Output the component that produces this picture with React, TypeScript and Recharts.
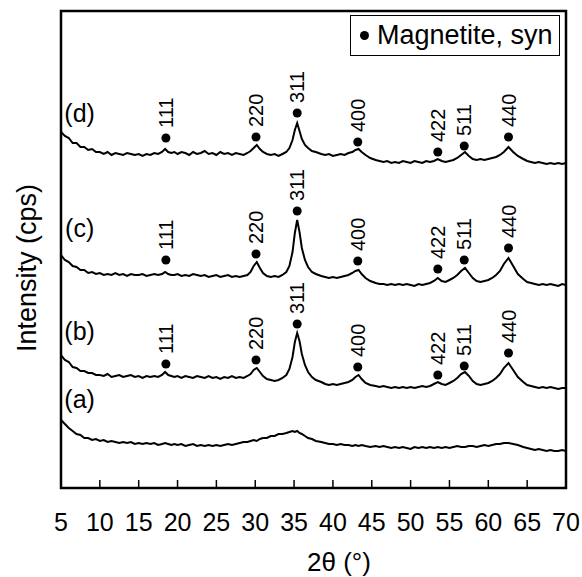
import {
  ComposedChart,
  Line,
  Scatter,
  XAxis,
  YAxis,
  ReferenceArea,
  ReferenceDot,
} from "recharts";

const FONT = "'Liberation Sans', Arial, sans-serif";

// 2θ sampling grid (degrees), denser near the reflections
const twoTheta = [
  5, 5.5, 6, 6.5, 7, 7.5, 8, 8.5, 9, 9.5,
  10, 10.5, 11, 11.5, 12, 12.5, 13, 13.5, 14, 14.5,
  15, 15.5, 16, 16.5, 17, 17.5, 18, 18.4, 18.8, 19.2,
  19.6, 20, 20.5, 21, 21.5, 22, 22.5, 23, 23.5, 24,
  24.5, 25, 25.5, 26, 26.5, 27, 27.5, 28, 28.5, 29,
  29.4, 29.8, 30.2, 30.6, 31, 31.5, 32, 32.5, 33, 33.5,
  34, 34.4, 34.8, 35.1, 35.4, 35.7, 36, 36.4, 36.8, 37.3,
  37.8, 38.5, 39, 39.5, 40, 40.5, 41, 41.5, 42, 42.5,
  42.9, 43.3, 43.7, 44.2, 44.8, 45.5, 46, 46.5, 47, 47.5,
  48, 48.5, 49, 49.5, 50, 50.5, 51, 51.5, 52, 52.5,
  53, 53.5, 54, 54.5, 55, 55.5, 56, 56.5, 57, 57.5,
  58, 58.5, 59, 59.5, 60, 60.5, 61, 61.5, 62, 62.6,
  63.2, 63.8, 64.5, 65, 65.5, 66, 66.5, 67, 67.5, 68,
  68.5, 69, 69.5, 70,
];

// stacked intensities (cps, offset per sample)
const intensityD = [
  356, 352, 350, 345, 345, 341, 341, 338, 339, 336,
  336, 334, 336, 333, 335, 334, 333, 335, 334, 333,
  334, 332, 334, 333, 335, 334, 336, 339, 336, 335,
  336, 334, 336, 335, 333, 336, 334, 335, 337, 334,
  335, 333, 336, 334, 335, 333, 335, 334, 333, 335,
  337, 340, 343, 339, 336, 334, 333, 334, 332, 334,
  336, 340, 348, 358, 365, 357, 349, 343, 340, 337,
  336, 334, 333, 334, 332, 333, 334, 333, 335, 336,
  338, 339, 336, 333, 330, 328, 327, 326, 327, 325,
  326, 325, 327, 326, 325, 327, 326, 325, 327, 326,
  327, 329, 327, 326, 327, 328, 330, 333, 336, 332,
  329, 328, 329, 328, 329, 330, 331, 333, 336, 341,
  336, 332, 329, 327, 326, 325, 326, 325, 324, 325,
  324, 325, 324, 325,
];

const intensityC = [
  233, 228, 226, 222, 221, 218, 218, 215, 216, 214,
  215, 213, 214, 213, 215, 213, 214, 212, 214, 213,
  213, 214, 212, 213, 214, 213, 214, 216, 214, 213,
  213, 214, 212, 213, 212, 214, 213, 212, 213, 211,
  212, 213, 211, 212, 213, 211, 212, 211, 212, 213,
  216, 222, 226, 220, 215, 212, 211, 212, 211, 213,
  216, 222, 236, 255, 268, 256, 240, 228, 221, 216,
  214, 212, 211, 210, 211, 210, 211, 212, 213, 215,
  217, 218, 214, 210, 207, 205, 204, 204, 203, 204,
  203, 204, 203, 204, 203, 202, 204, 203, 204, 205,
  207, 210, 207, 206, 208, 210, 213, 217, 220, 215,
  210, 207, 206, 207, 208, 210, 213, 217, 224, 230,
  222, 214, 209, 206, 205, 204, 203, 204, 203, 204,
  203, 202, 204, 203,
];

const intensityB = [
  133, 128, 126, 121, 120, 117, 117, 115, 115, 113,
  113, 112, 114, 111, 112, 113, 111, 112, 113, 111,
  112, 110, 112, 111, 112, 111, 113, 116, 113, 112,
  111, 112, 110, 112, 111, 110, 112, 111, 110, 112,
  110, 111, 109, 111, 110, 112, 110, 111, 110, 112,
  114, 118, 120, 116, 112, 109, 108, 107, 108, 110,
  113, 119, 131, 146, 155, 147, 134, 123, 116, 111,
  108, 106, 104, 103, 104, 103, 104, 105, 106, 108,
  111, 113, 109, 105, 103, 102, 101, 102, 101, 100,
  101, 100, 101, 100, 101, 100, 101, 102, 101, 102,
  104, 106, 104, 103, 105, 107, 110, 114, 116, 112,
  107, 104, 103, 104, 105, 107, 110, 114, 120, 125,
  118, 111, 106, 103, 102, 101, 100, 101, 100, 101,
  100, 99, 100, 100,
];

const intensityA = [
  68, 64, 60, 57, 54, 53, 50, 50, 48, 49,
  47, 48, 46, 47, 46, 45, 46, 45, 46, 44,
  45, 44, 45, 44, 45, 43, 44, 45, 44, 43,
  44, 43, 44, 42, 43, 44, 42, 43, 42, 43,
  42, 43, 42, 43, 44, 43, 44, 45, 46, 46,
  47, 48, 47, 49, 50, 50, 52, 52, 54, 54,
  55, 56, 57, 56, 57, 55, 54, 52, 50, 49,
  47, 46, 45, 44, 44, 43, 44, 43, 43, 42,
  43, 42, 43, 42, 41, 42, 41, 42, 41, 40,
  41, 40, 41, 40, 39, 41, 40, 41, 40, 41,
  40, 41, 40, 41, 40, 41, 42, 41, 41, 42,
  42, 41, 42, 43, 42, 43, 44, 44, 45, 45,
  44, 43, 41, 40, 39, 38, 39, 38, 37, 38,
  37, 37, 38, 37,
];

// magnetite reflections
const hkl = ["111", "220", "311", "400", "422", "511", "440"];
const peakTheta = [18.5, 30.1, 35.4, 43.2, 53.5, 56.9, 62.6];
const markD = [350, 351, 375, 346, 336, 342, 351];
const markC = [228, 234, 277, 227, 219, 228, 240];
const markB = [124, 128, 164, 121, 113, 122, 135];

const xTicks = [5, 10, 15, 20, 25, 30, 35, 40, 45, 50, 55, 60, 65, 70];

const toSeries = (ys: number[]) => twoTheta.map((x, i) => ({ x, y: ys[i] }));
const toMarks = (ys: number[]) =>
  peakTheta.map((x, i) => ({ x, y: ys[i], hkl: hkl[i] }));

const traces = [intensityA, intensityB, intensityC, intensityD].map(toSeries);
const marks = [markB, markC, markD].map(toMarks);

function XTick(props: any) {
  const { x, y, payload } = props;
  return (
    <g>
      <line x1={x} x2={x} y1={y} y2={y - 8} stroke="#000" strokeWidth={1.5} />
      <text
        x={x}
        y={y + 43}
        textAnchor="middle"
        fontSize={25}
        fontFamily={FONT}
        fill="#000"
      >
        {payload.value}
      </text>
    </g>
  );
}

function PeakMark(props: any) {
  const { cx, cy, payload } = props;
  if (cx == null || cy == null) return null;
  const ly = cy - 10;
  return (
    <g>
      <circle cx={cx} cy={cy} r={4.5} fill="#000" />
      <text
        x={cx}
        y={ly}
        transform={`rotate(-90 ${cx} ${ly})`}
        textAnchor="start"
        dominantBaseline="central"
        fontSize={20}
        fontFamily={FONT}
        fill="#000"
      >
        {payload.hkl}
      </text>
    </g>
  );
}

const sampleLabels = [
  { text: "(a)", y: 89 },
  { text: "(b)", y: 157 },
  { text: "(c)", y: 260 },
  { text: "(d)", y: 375 },
];

export default function App() {
  return (
    <div
      style={{
        position: "absolute",
        left: 0,
        top: 0,
        width: 582,
        height: 577,
        background: "#fff",
        fontFamily: FONT,
      }}
    >
      <ComposedChart
        width={582}
        height={577}
        margin={{ top: 11, right: 16, bottom: 0, left: 61 }}
      >
        <XAxis
          type="number"
          dataKey="x"
          domain={[5, 70]}
          ticks={xTicks}
          allowDataOverflow
          axisLine={false}
          tickLine={false}
          tickSize={0}
          tickMargin={0}
          height={89}
          tick={<XTick />}
        />
        <YAxis type="number" dataKey="y" domain={[0, 477]} hide allowDataOverflow />
        {traces.map((d, i) => (
          <Line
            key={i}
            data={d}
            dataKey="y"
            type="linear"
            stroke="#000"
            strokeWidth={2}
            dot={false}
            activeDot={false}
            isAnimationActive={false}
          />
        ))}
        {marks.map((d, i) => (
          <Scatter
            key={"m" + i}
            data={d}
            dataKey="y"
            shape={<PeakMark />}
            isAnimationActive={false}
          />
        ))}
        {sampleLabels.map((s) => (
          <ReferenceDot
            key={s.text}
            x={7.4}
            y={s.y}
            r={0}
            stroke="none"
            ifOverflow="visible"
            label={{
              value: s.text,
              position: "center",
              fontSize: 25,
              fontFamily: FONT,
              fill: "#000",
            }}
          />
        ))}
        <ReferenceArea
          x1={5}
          x2={70}
          y1={0}
          y2={477}
          fill="none"
          stroke="#000"
          strokeWidth={2.5}
          ifOverflow="visible"
        />
      </ComposedChart>

      {/* legend */}
      <div
        style={{
          position: "absolute",
          left: 350,
          top: 15,
          width: 210,
          height: 41,
          boxSizing: "border-box",
          border: "1.5px solid #000",
          background: "#fff",
          display: "flex",
          alignItems: "center",
          fontSize: 27,
          whiteSpace: "nowrap",
        }}
      >
        <span
          style={{
            display: "inline-block",
            width: 9,
            height: 9,
            borderRadius: "50%",
            background: "#000",
            marginLeft: 9,
            marginRight: 8,
          }}
        />
        <span>Magnetite, syn</span>
      </div>

      {/* axis titles */}
      <div
        style={{
          position: "absolute",
          left: 27,
          top: 268,
          transform: "translate(-50%, -50%) rotate(-90deg)",
          fontSize: 27,
          whiteSpace: "nowrap",
        }}
      >
        Intensity (cps)
      </div>
      <div
        style={{
          position: "absolute",
          left: 339,
          top: 562,
          transform: "translate(-50%, -50%)",
          fontSize: 26,
          whiteSpace: "nowrap",
        }}
      >
        2θ (°)
      </div>
    </div>
  );
}
